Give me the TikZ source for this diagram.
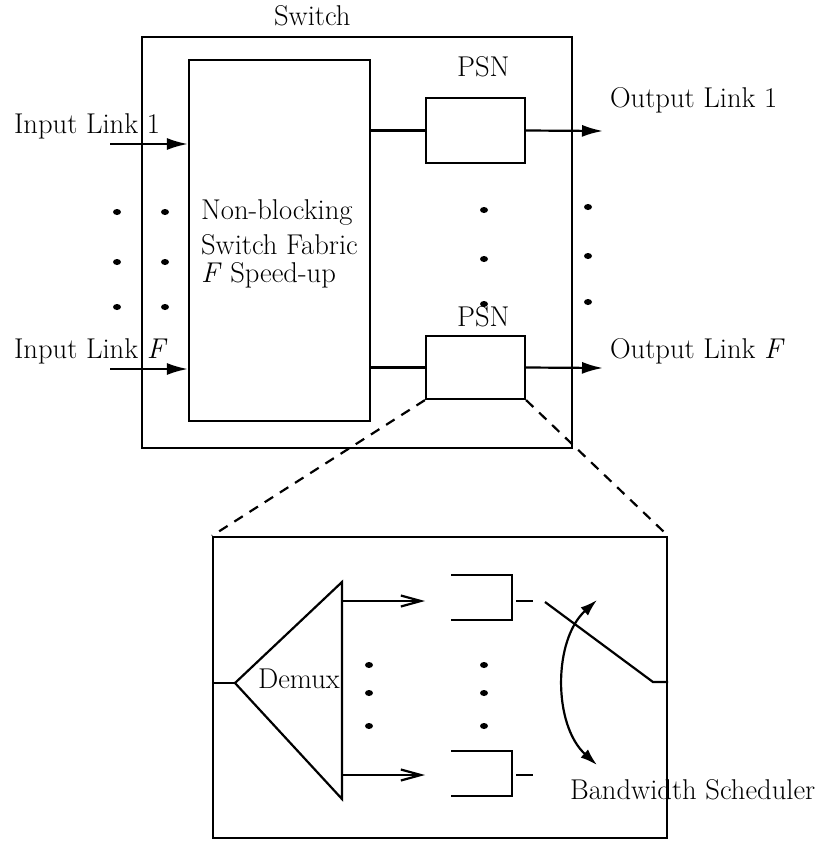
\documentclass[tikz,border=0pt]{standalone}
\usetikzlibrary{arrows.meta}
\begin{document}
\begin{tikzpicture}[x=1pt,y=-1pt,line width=2.2pt,
  every node/.style={font=\fontsize{28.6}{32}\selectfont,inner sep=0pt},
  box/.style={draw,line width=2.2pt,inner sep=0pt},
  arr/.style={-{Latex[length=21pt,width=12pt]}},
  oarr/.style={-{Straight Barb[length=20pt,width=11pt]}},
  barr/.style={{Latex[length=17pt,width=11pt]}-{Latex[length=17pt,width=11pt]}},
  lbl/.style={anchor=base west}]
\useasboundingbox (0,0) rectangle (822,841);
% boxes
\node[box,minimum width=430pt,minimum height=411pt] (sw) at (357,242.5) {};
\node[box,minimum width=181pt,minimum height=361pt] (fab) at (279.5,240.5) {};
\node[box,minimum width=99pt,minimum height=65pt] (psn1) at (475.5,130.5) {};
\node[box,minimum width=99pt,minimum height=63pt] (psn2) at (475.5,367.5) {};
\node[box,minimum width=454pt,minimum height=301pt] (zb) at (440,687.5) {};
% labels
\node[lbl] (tsw) at (273,25) {Switch};
\node[lbl] (tin1) at (13,133) {Input Link 1};
\node[lbl] (tinF) at (13,358) {Input Link \textit{F}};
\node[lbl] (tf1) at (200,219) {Non-blocking};
\node[lbl] (tf2) at (200,254) {Switch Fabric};
\node[lbl] (tf3) at (200,282) {\textit{F} Speed-up};
\node[lbl] (tp1) at (456,76) {PSN};
\node[lbl] (tp2) at (456,326) {PSN};
\node[lbl] (to1) at (609,107) {Output Link 1};
\node[lbl] (toF) at (609,358) {Output Link \textit{F}};
% input arrows
\coordinate (in1) at (110,144);
\coordinate (inF) at (110,369);
\draw[arr] (in1) -- (in1 -| fab.west);
\draw[arr] (inF) -- (inF -| fab.west);
% fabric to PSN
\draw (psn1.west -| fab.east) -- (psn1.west);
\draw (psn2.west -| fab.east) -- (psn2.west);
% outputs
\coordinate (out1) at (603,131);
\coordinate (outF) at (603,368);
\draw[arr] (psn1.east) -- (out1);
\draw[arr] (psn2.east) -- (outF);
% dots
\foreach \x in {117,165}{\foreach \y in {212,262,307}{\fill (\x,\y) ellipse [x radius=4,y radius=3];}}
\foreach \y in {210,259,304}{\fill (484,\y) ellipse [x radius=4,y radius=3];}
\foreach \y in {207,256,302}{\fill (588,\y) ellipse [x radius=4,y radius=3];}
% zoom lines
\draw[dashed,dash pattern=on 10pt off 8pt] (psn2.south west) -- (zb.north west);
\draw[dashed,dash pattern=on 10pt off 8pt] (psn2.south east) -- (zb.north east);
% demux
\coordinate (apex) at (235,683);
\coordinate (dt) at (342,582);
\coordinate (db) at (342,799);
\draw (apex) -- (dt) -- (db) -- cycle;
\draw (apex -| zb.west) -- (apex);
\node[lbl] (tdm) at (257,688) {Demux};
% demux outputs
\draw[oarr] (342,601) -- (425,601);
\draw[oarr] (342,775) -- (425,775);
% queues
\draw (451,575) -| (512,620) -- (451,620);
\draw (451,751) -| (512,796) -- (451,796);
\draw (516,601) -- (533,601);
\draw (516,775) -- (533,775);
\foreach \y in {665,693,726}{\fill (369,\y) ellipse [x radius=4,y radius=3]; \fill (484,\y) ellipse [x radius=4,y radius=3];}
% switch
\coordinate (s1) at (545,602);
\coordinate (s2) at (653,682);
\draw (s1) -- (s2) -- (s2 -| zb.east);
\coordinate (c1) at (597,600);
\coordinate (c2) at (597,765);
\draw[barr] (c1) .. controls (553,640) and (553,725) .. (c2);
\node[lbl] (tbs) at (569,799) {Bandwidth Scheduler};
\end{tikzpicture}
\end{document}
